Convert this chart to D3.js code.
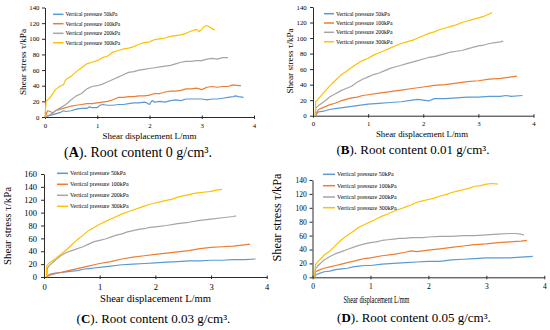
<html>
<head>
<style>
body { margin: 0; background: #fff; }
svg { font-family: "Liberation Serif", "Times New Roman", serif; }
</style>
</head>
<body>
<script src="https://d3js.org/d3.v7.min.js"></script>
<script>
// series labels, colours and ticks
var seriesNames = ["Vertical pressure 50kPa", "Vertical pressure 100kPa", "Vertical pressure 200kPa", "Vertical pressure 300kPa"];
var seriesColors = ["#5b9bd5", "#ed7d31", "#a5a5a5", "#ffc000"];
var xTicks = [0, 1, 2, 3, 4];
var yTicks140 = [0, 20, 40, 60, 80, 100, 120, 140];
var yTicks160 = [0, 20, 40, 60, 80, 100, 120, 140, 160];
var panelLetters = ["A", "B", "C", "D"];
var rootContents = ["0", "0.01", "0.03", "0.05"];

// (A) root content 0 g/cm3  [displacement mm, shear stress kPa]
var a50 = [[0,0],[0.1,2],[0.2,4],[0.3,6],[0.35,8],[0.4,7],[0.5,8],[0.6,10],[0.7,11],[0.8,11],[0.85,13],[0.9,12],[1.0,12],[1.05,15],[1.1,16],[1.2,15],[1.3,15],[1.4,16],[1.5,16],[1.6,17],[1.7,18],[1.8,18],[1.9,19],[1.95,18],[2.0,16],[2.05,21],[2.1,19],[2.2,20],[2.3,19],[2.4,21],[2.5,22],[2.6,21],[2.7,23],[2.8,23],[2.9,23],[3.0,23],[3.1,22],[3.2,23],[3.3,23],[3.4,24],[3.5,25],[3.6,26],[3.65,27],[3.7,26],[3.8,25]];
var a100 = [[0,0],[0.05,8],[0.1,7],[0.15,5],[0.2,8],[0.3,10],[0.4,12],[0.5,14],[0.6,15],[0.7,16],[0.8,17],[0.9,17],[1.0,18],[1.1,19],[1.2,20],[1.3,22],[1.4,25],[1.5,25],[1.6,26],[1.7,26],[1.8,27],[1.9,27],[2.0,28],[2.1,30],[2.2,30],[2.3,32],[2.4,33],[2.5,33],[2.6,34],[2.7,36],[2.8,36],[2.9,37],[3.0,35],[3.1,38],[3.2,39],[3.3,38],[3.4,39],[3.5,39],[3.6,41],[3.7,40],[3.75,40]];
var a200 = [[0,0],[0.1,3],[0.2,8],[0.3,12],[0.4,16],[0.5,22],[0.6,27],[0.7,30],[0.8,36],[0.9,39],[1.0,40],[1.1,42],[1.2,45],[1.3,48],[1.4,51],[1.5,54],[1.6,57],[1.7,58],[1.8,60],[1.9,61],[2.0,62],[2.1,63],[2.2,64],[2.3,65],[2.4,66],[2.5,68],[2.6,70],[2.7,71],[2.8,71],[2.9,72],[3.0,72],[3.1,74],[3.2,75],[3.3,74],[3.4,76],[3.5,76]];
var a300 = [[0,0],[0.02,20],[0.1,25],[0.2,35],[0.3,40],[0.35,41],[0.4,48],[0.5,52],[0.6,58],[0.7,63],[0.8,68],[0.9,70],[1.0,72],[1.1,76],[1.2,78],[1.3,83],[1.4,85],[1.5,87],[1.6,88],[1.7,90],[1.8,93],[1.9,95],[2.0,96],[2.1,99],[2.2,100],[2.3,101],[2.4,103],[2.5,104],[2.6,105],[2.7,107],[2.8,110],[2.9,112],[2.95,109],[3.0,112],[3.05,116],[3.1,117],[3.15,115],[3.2,113],[3.25,111]];

// (B) root content 0.01 g/cm3
var b50 = [[0.05,0],[0.07,3],[0.1,5],[0.2,6],[0.3,8],[0.4,9],[0.5,10],[0.6,11],[0.7,12],[0.8,13],[0.9,14],[1.0,15],[1.2,16],[1.4,17],[1.6,18],[1.8,20],[1.9,21],[2.0,20],[2.1,19],[2.2,22],[2.4,22],[2.6,23],[2.8,24],[3.0,24],[3.2,25],[3.4,25],[3.5,26],[3.6,25],[3.8,26]];
var b100 = [[0.05,0],[0.07,5],[0.1,8],[0.2,11],[0.3,14],[0.4,16],[0.5,19],[0.6,21],[0.7,23],[0.8,24],[0.9,26],[1.0,27],[1.2,29],[1.4,31],[1.6,33],[1.8,35],[2.0,37],[2.2,39],[2.4,40],[2.6,42],[2.8,44],[3.0,45],[3.2,47],[3.4,48],[3.6,50],[3.7,51]];
var b200 = [[0.04,0],[0.05,10],[0.1,13],[0.2,18],[0.3,24],[0.4,28],[0.5,32],[0.6,35],[0.7,38],[0.8,43],[0.9,47],[1.0,50],[1.1,53],[1.2,55],[1.3,58],[1.4,61],[1.5,63],[1.6,65],[1.7,67],[1.8,69],[1.9,71],[2.0,73],[2.1,75],[2.2,76],[2.3,78],[2.4,80],[2.5,82],[2.6,83],[2.7,84],[2.8,86],[2.9,88],[3.0,90],[3.1,91],[3.2,93],[3.3,94],[3.4,95],[3.45,96]];
var b300 = [[0.04,0],[0.05,18],[0.1,22],[0.2,30],[0.3,38],[0.4,45],[0.5,52],[0.6,57],[0.7,62],[0.8,67],[0.9,71],[1.0,74],[1.1,78],[1.2,81],[1.3,84],[1.4,87],[1.5,90],[1.6,93],[1.7,95],[1.8,97],[1.9,100],[2.0,103],[2.1,106],[2.2,108],[2.3,111],[2.4,113],[2.5,115],[2.6,117],[2.7,120],[2.8,122],[2.9,124],[3.0,126],[3.1,128],[3.2,131],[3.25,133]];

// (C) root content 0.03 g/cm3
var c50 = [[0.05,0],[0.1,4],[0.2,6],[0.3,7],[0.4,8],[0.5,9],[0.6,10],[0.7,12],[0.8,13],[0.9,14],[1.0,15],[1.2,17],[1.4,19],[1.6,20],[1.8,21],[2.0,22],[2.2,23],[2.4,24],[2.6,25],[2.8,25],[3.0,26],[3.2,26],[3.4,27],[3.6,27],[3.8,28]];
var c100 = [[0.05,0],[0.1,3],[0.2,5],[0.3,7],[0.4,9],[0.5,11],[0.6,13],[0.7,15],[0.8,17],[0.9,19],[1.0,21],[1.2,24],[1.4,28],[1.6,31],[1.8,33],[2.0,35],[2.2,37],[2.4,39],[2.6,41],[2.8,44],[3.0,46],[3.2,47],[3.4,48],[3.6,50],[3.7,51]];
var c200 = [[0.05,0],[0.06,14],[0.1,18],[0.2,26],[0.3,33],[0.4,38],[0.5,41],[0.6,44],[0.7,47],[0.8,51],[0.9,55],[1.0,57],[1.1,59],[1.2,62],[1.3,65],[1.4,67],[1.5,70],[1.6,72],[1.7,74],[1.8,75],[1.9,77],[2.0,78],[2.2,80],[2.4,83],[2.6,85],[2.8,88],[3.0,90],[3.2,92],[3.4,94],[3.45,95]];
var c300 = [[0.04,0],[0.05,18],[0.1,22],[0.2,28],[0.3,35],[0.4,42],[0.5,50],[0.6,58],[0.7,65],[0.8,72],[0.9,77],[1.0,82],[1.1,86],[1.2,90],[1.3,94],[1.4,98],[1.5,101],[1.6,104],[1.7,107],[1.8,110],[1.9,113],[2.0,115],[2.1,117],[2.2,119],[2.3,121],[2.4,124],[2.5,126],[2.6,128],[2.7,130],[2.8,131],[2.9,132],[3.0,133],[3.1,135],[3.2,136]];

// (D) root content 0.05 g/cm3
var d50 = [[0.04,0],[0.05,3],[0.1,5],[0.2,8],[0.3,9],[0.4,11],[0.5,12],[0.6,13],[0.7,15],[0.8,16],[0.9,17],[1.0,17],[1.2,19],[1.4,20],[1.6,21],[1.8,22],[2.0,23],[2.2,23],[2.4,25],[2.6,26],[2.8,27],[3.0,28],[3.2,28],[3.4,28],[3.6,29],[3.8,30]];
var d100 = [[0.04,0],[0.05,8],[0.1,10],[0.2,13],[0.3,15],[0.4,17],[0.5,19],[0.6,21],[0.7,23],[0.8,25],[0.9,27],[1.0,28],[1.2,31],[1.4,33],[1.6,36],[1.7,38],[1.8,37],[2.0,39],[2.2,41],[2.4,43],[2.6,45],[2.8,47],[3.0,48],[3.2,50],[3.4,51],[3.6,52],[3.7,53]];
var d200 = [[0.04,0],[0.05,12],[0.1,17],[0.2,25],[0.3,30],[0.4,34],[0.5,37],[0.6,40],[0.7,43],[0.8,46],[0.9,48],[1.0,50],[1.1,51],[1.2,53],[1.3,54],[1.4,55],[1.5,56],[1.6,56],[1.7,57],[1.8,57],[1.9,57],[2.0,58],[2.2,59],[2.4,59],[2.6,60],[2.8,60],[3.0,61],[3.2,62],[3.4,63],[3.5,63],[3.6,62],[3.65,61]];
var d300 = [[0.04,0],[0.05,18],[0.1,23],[0.2,32],[0.3,38],[0.4,46],[0.5,54],[0.6,60],[0.7,66],[0.8,72],[0.9,76],[1.0,80],[1.1,84],[1.2,88],[1.3,91],[1.4,95],[1.5,98],[1.6,101],[1.7,104],[1.8,108],[1.9,110],[2.0,112],[2.1,114],[2.2,117],[2.3,119],[2.4,122],[2.5,124],[2.6,126],[2.7,128],[2.8,131],[2.9,132],[3.0,134],[3.1,135],[3.2,134]];

var panelData = [[a50, a100, a200, a300], [b50, b100, b200, b300], [c50, c100, c200, c300], [d50, d100, d200, d300]];
var panelYTicks = [yTicks140, yTicks140, yTicks160, yTicks140];

var layout = [
	{x0: 45, x1: 254, yb: 117, yt: 7.5, tickFs: 6.8, tickPad: 2.5, xTickY: 128,
	 xTitle: [149.5, 138.5], xTitleLen: 94, xTitleFs: 9,
	 yTitle: [26, 62], yTitleLen: 66, yTitleFs: 9.2,
	 cap: [138, 156.5], capFs: 14, legX: [53, 63.5], legY: [14.3, 23.7, 33.3, 42.7], legFs: 5.5},
	{x0: 313, x1: 533.5, yb: 115.7, yt: 7, tickFs: 6.8, tickPad: 3.3, xTickY: 126,
	 xTitle: [422, 136.7], xTitleLen: 92, xTitleFs: 9,
	 yTitle: [293, 61], yTitleLen: 65, yTitleFs: 9,
	 cap: [413, 154], capFs: 13, legX: [324, 334], legY: [13.7, 23, 32.3, 41.7], legFs: 5.7},
	{x0: 44, x1: 266.7, yb: 277, yt: 174, tickFs: 8.5, tickPad: 4, xTickY: 289.5,
	 xTitle: [155.5, 302.3], xTitleLen: 111, xTitleFs: 10.5,
	 yTitle: [11, 226], yTitleLen: 78, yTitleFs: 11,
	 cap: [153.5, 323], capFs: 13, legX: [57, 68], legY: [173.3, 184.3, 195.3, 206.3], legFs: 5.9},
	{x0: 312.5, x1: 544.3, yb: 277.3, yt: 180, tickFs: 7.5, tickPad: 2.8, xTickY: 289.5,
	 xTitle: [376.5, 302.7], xTitleLen: 66, xTitleFs: 10.5,
	 yTitle: [281, 217.5], yTitleLen: 88, yTitleFs: 11.5,
	 cap: [414, 322.3], capFs: 13, legX: [323, 335], legY: [174.3, 185.7, 197, 207.7], legFs: 6}
];

var svg = d3.select("body").append("svg")
	.attr("width", 550)
	.attr("height", 330);

var axisColor = "#2b2b2b";

panelData.forEach(function(series, i) {
	var L = layout[i];
	var yTicks = panelYTicks[i];
	var yMax = yTicks[yTicks.length - 1];

	var x = d3.scaleLinear().domain([0, 4]).range([L.x0, L.x1]);
	var y = d3.scaleLinear().domain([0, yMax]).range([L.yb, L.yt]);

	var g = svg.append("g");

	// y axis
	var yAxis = g.append("g")
		.attr("transform", "translate(" + L.x0 + ",0)")
		.call(d3.axisLeft(y).tickValues(yTicks).tickFormat(d3.format("d")).tickSize(3).tickPadding(L.tickPad).tickSizeOuter(0))
		.attr("font-family", null).attr("font-size", L.tickFs);
	yAxis.selectAll("text").attr("fill", "#000");
	yAxis.select(".domain").attr("stroke", axisColor);
	yAxis.selectAll("line").attr("stroke", axisColor);

	// x axis
	var xAxis = g.append("g")
		.attr("transform", "translate(0," + L.yb + ")")
		.call(d3.axisBottom(x).tickValues(xTicks).tickFormat(d3.format("d")).tickSize(2).tickSizeOuter(0))
		.attr("font-family", null).attr("font-size", L.tickFs);
	xAxis.selectAll("text")
		.attr("fill", "#000")
		.attr("y", L.xTickY - L.yb).attr("dy", null);
	xAxis.select(".domain").attr("stroke", axisColor);
	xAxis.selectAll(".tick line").attr("stroke", axisColor).attr("y1", -1.5);

	// curves
	var line = d3.line()
		.x(function(d) { return x(d[0]); })
		.y(function(d) { return y(d[1]); });

	series.forEach(function(s, k) {
		g.append("path")
			.datum(s)
			.attr("fill", "none")
			.attr("stroke", seriesColors[k])
			.attr("stroke-width", 1.2)
			.attr("stroke-linejoin", "round")
			.attr("d", line);
	});

	// legend
	seriesNames.forEach(function(name, k) {
		g.append("line")
			.attr("x1", L.legX[0]).attr("x2", L.legX[1])
			.attr("y1", L.legY[k]).attr("y2", L.legY[k])
			.attr("stroke", seriesColors[k])
			.attr("stroke-width", 1.5);
		g.append("text")
			.attr("x", L.legX[1] + 2)
			.attr("y", L.legY[k] + L.legFs * 0.33)
			.attr("font-size", L.legFs)
			.text(name);
	});

	// axis titles
	g.append("text")
		.attr("x", L.xTitle[0]).attr("y", L.xTitle[1])
		.attr("text-anchor", "middle")
		.attr("font-size", L.xTitleFs)
		.attr("textLength", L.xTitleLen)
		.attr("lengthAdjust", "spacingAndGlyphs")
		.text("Shear displacement L/mm");

	g.append("text")
		.attr("transform", "translate(" + L.yTitle[0] + "," + L.yTitle[1] + ")rotate(-90)")
		.attr("text-anchor", "middle")
		.attr("font-size", L.yTitleFs)
		.attr("textLength", L.yTitleLen)
		.attr("lengthAdjust", "spacingAndGlyphs")
		.text("Shear stress \u03c4/kPa");

	// caption
	var cap = g.append("text")
		.attr("x", L.cap[0]).attr("y", L.cap[1])
		.attr("text-anchor", "middle")
		.attr("font-size", L.capFs);
	cap.append("tspan").text("(");
	cap.append("tspan").attr("font-weight", "bold").text(panelLetters[i]);
	cap.append("tspan").text("). Root content " + rootContents[i] + " g/cm\u00b3.");
});
</script>
</body>
</html>
